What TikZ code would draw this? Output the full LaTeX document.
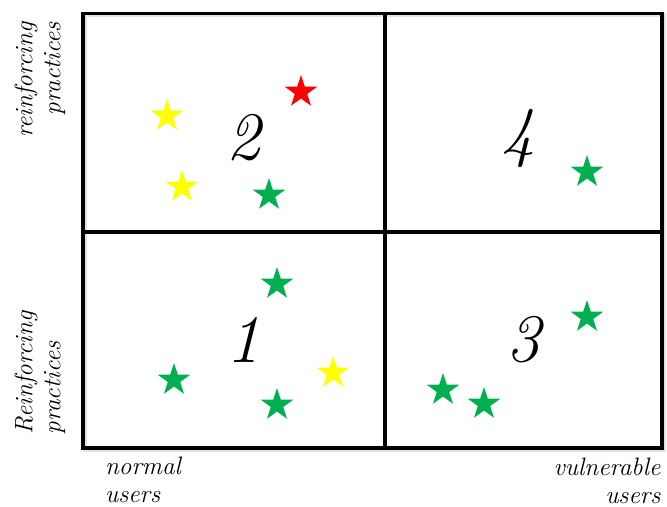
\documentclass[tikz,border=0pt]{standalone}
\usepackage{xcolor}
\usepackage{tikz}
\usetikzlibrary{shapes.geometric}
\definecolor{stgreen}{RGB}{0,176,80}
\definecolor{styellow}{RGB}{255,255,0}
\definecolor{stred}{RGB}{255,0,0}

\begin{document}
\begin{tikzpicture}[
  x=0.03cm, y=-0.03cm,
  frame/.style={line width=3.4pt},
  shade/.style={line width=3pt, draw=gray!22},
  st/.style={star, star points=5, star point ratio=2.6, minimum size=1.02cm,
             inner sep=0pt, draw=none},
  gst/.style={st, fill=stgreen},
  yst/.style={st, fill=styellow},
  rst/.style={st, fill=stred},
  num/.style={font=\fontsize{58}{60}\selectfont\itshape},
  lab/.style={font=\fontsize{21.5}{24}\selectfont\itshape, inner sep=0pt}]
\useasboundingbox (0,0) rectangle (667,507);
% frame with a light shadow
\draw[shade] (85,15) rectangle (664,450);
\coordinate (tl) at (83,13.5);
\coordinate (br) at (662,448);
\draw[frame] (tl) rectangle (br);
\draw[frame] (385,13.5) -- (385,448);
\draw[frame] (83,232) -- (662,232);
% quadrant numbers
\node[num] (q1) at (243,340) {1};
\node[num] (q2) at (243,138) {2};
\node[num] (q3) at (523,340) {3};
\node[num] (q4) at (518,138) {4};
% quadrant 2
\node[yst] (s2a) at (167,116) {};
\node[rst] (s2b) at (301,92) {};
\node[yst] (s2c) at (182,187) {};
\node[gst] (s2d) at (269,195) {};
% quadrant 4
\node[gst] (s4a) at (587,172) {};
% quadrant 1
\node[gst] (s1a) at (277,284) {};
\node[gst] (s1b) at (174,380) {};
\node[gst] (s1c) at (277,405) {};
\node[yst] (s1d) at (333,373) {};
% quadrant 3
\node[gst] (s3a) at (587,317) {};
\node[gst] (s3b) at (443,390) {};
\node[gst] (s3c) at (484,404) {};
% axis labels
\node[lab, rotate=90, align=right] (ytop) at (40,80) {reinforcing\\practices};
\node[lab, rotate=90, align=left] (ybot) at (40,373) {Reinforcing\\practices};
\node[lab, align=left] (xleft) at (143,480) {normal\\users};
\node[lab, align=right] (xright) at (607,481) {vulnerable\\users};
\end{tikzpicture}
\end{document}
